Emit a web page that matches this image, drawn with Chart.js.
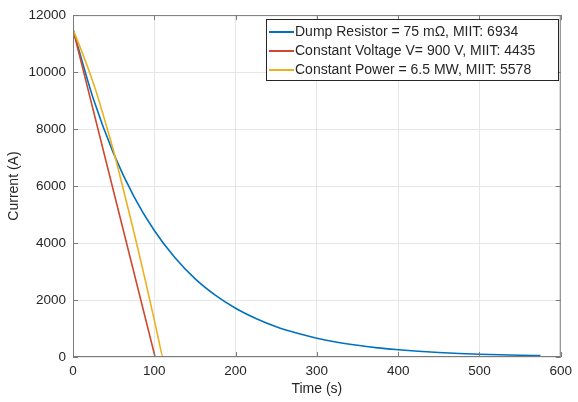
<!DOCTYPE html>
<html>
<head>
<meta charset="utf-8">
<script src="https://cdn.jsdelivr.net/npm/chart.js@4.4.1/dist/chart.umd.min.js"></script>
<style>
  html, body { margin: 0; padding: 0; background: #fff; }
  #wrap { width: 578px; height: 402px; }
</style>
</head>
<body>
<div id="wrap"><canvas id="currentChart" width="578" height="402"></canvas></div>
<script>
// time samples (s) and current values (A)
const dumpTime = [0, 25, 50, 75, 100, 125, 150, 175, 200, 225, 250, 275, 300, 325, 350, 375, 400, 425, 450, 475, 500, 525, 550, 575];
const dumpCurrent = [11500, 9060, 7140, 5630, 4440, 3500, 2750, 2170, 1710, 1350, 1060, 840, 660, 520, 410, 320, 255, 200, 158, 125, 98, 77, 61, 48];

const voltTime = [0, 101, 575];
const voltCurrent = [11500, 0, 0];

const powerTime = [0, 10, 20, 30, 40, 50, 60, 70, 80, 90, 100, 105, 111, 575];
const powerCurrent = [11500, 10780, 10020, 9180, 8220, 7220, 6100, 4960, 3780, 2560, 1300, 650, 0, 0];

const seriesLabels = [
    "Dump Resistor = 75 m\u03A9, MIIT: 6934",
    "Constant Voltage V= 900 V, MIIT: 4435",
    "Constant Power = 6.5 MW, MIIT: 5578"
];
const seriesColors = ["#0072BD", "#D0472E", "#EDB120"];

const xTicks = [0, 100, 200, 300, 400, 500, 600];
const yTicks = [0, 2000, 4000, 6000, 8000, 10000, 12000];

const toPoints = (xs, ys) => xs.map((x, i) => ({ x: x, y: ys[i] }));

const FONT = "'Liberation Sans', Arial, Helvetica, sans-serif";
const TEXT = "#262626";

// MATLAB-like box, inward ticks and legend inside the axes
const matlabAxes = {
    id: "matlabAxes",
    afterDatasetsDraw(chart) {
        const { ctx, chartArea: a, scales } = chart;
        ctx.save();
        ctx.strokeStyle = "#7a7a7a";
        ctx.lineWidth = 1;
        ctx.strokeRect(a.left + 0.5, a.top + 0.5, a.right - a.left - 1, a.bottom - a.top - 1);
        ctx.beginPath();
        xTicks.forEach(v => {
            const px = Math.round(scales.x.getPixelForValue(v)) + 0.5;
            ctx.moveTo(px, a.bottom); ctx.lineTo(px, a.bottom - 5);
            ctx.moveTo(px, a.top); ctx.lineTo(px, a.top + 5);
        });
        yTicks.forEach(v => {
            const py = Math.round(scales.y.getPixelForValue(v)) + 0.5;
            ctx.moveTo(a.left, py); ctx.lineTo(a.left + 5, py);
            ctx.moveTo(a.right, py); ctx.lineTo(a.right - 5, py);
        });
        ctx.stroke();

        // legend box
        const bx = 266, by = 19, bw = 292, bh = 61;
        ctx.fillStyle = "#fff";
        ctx.fillRect(bx, by, bw, bh);
        ctx.strokeStyle = "#262626";
        ctx.strokeRect(bx + 0.5, by + 0.5, bw, bh);
        ctx.font = "14px " + FONT;
        ctx.textBaseline = "middle";
        chart.data.datasets.forEach((ds, i) => {
            const cy = by + 13 + i * 19;
            ctx.strokeStyle = ds.borderColor;
            ctx.lineWidth = 2;
            ctx.beginPath();
            ctx.moveTo(bx + 3, cy); ctx.lineTo(bx + 28, cy);
            ctx.stroke();
            ctx.fillStyle = TEXT;
            ctx.fillText(ds.label, bx + 29, cy);
        });
        ctx.restore();
    }
};

const ctx = document.getElementById("currentChart").getContext("2d");
new Chart(ctx, {
    type: "line",
    data: {
        datasets: [
            { label: seriesLabels[0], data: toPoints(dumpTime, dumpCurrent), borderColor: seriesColors[0], cubicInterpolationMode: "monotone", order: 3 },
            { label: seriesLabels[1], data: toPoints(voltTime, voltCurrent), borderColor: seriesColors[1], order: 2 },
            { label: seriesLabels[2], data: toPoints(powerTime, powerCurrent), borderColor: seriesColors[2], cubicInterpolationMode: "monotone", order: 1 }
        ]
    },
    options: {
        responsive: false,
        animation: false,
        layout: { padding: { left: 0, right: 13, top: 11, bottom: 0 } },
        elements: {
            point: { radius: 0 },
            line: { borderWidth: 1.6, fill: false }
        },
        plugins: {
            legend: { display: false },
            tooltip: { enabled: false }
        },
        scales: {
            x: {
                type: "linear",
                min: 0,
                max: 600,
                afterFit: s => { s.height = 45; },
                afterBuildTicks: s => { s.ticks = xTicks.map(v => ({ value: v })); },
                grid: { color: "#e6e6e6", drawTicks: false },
                border: { display: false },
                ticks: { color: TEXT, padding: 6, maxRotation: 0, font: { size: 13.5, family: FONT }, callback: v => String(v) },
                title: { display: true, text: "Time (s)", color: TEXT, font: { size: 14, family: FONT }, padding: { top: 0, bottom: 4 } }
            },
            y: {
                min: 0,
                max: 12000,
                afterFit: s => { s.width = 73; },
                afterBuildTicks: s => { s.ticks = yTicks.map(v => ({ value: v })); },
                grid: { color: "#e6e6e6", drawTicks: false },
                border: { display: false },
                ticks: { color: TEXT, padding: 7, font: { size: 13.5, family: FONT }, callback: v => String(v) },
                title: { display: true, text: "Current (A)", color: TEXT, font: { size: 14, family: FONT }, padding: { top: 6, bottom: 0 } }
            }
        }
    },
    plugins: [matlabAxes]
});
</script>
</body>
</html>
